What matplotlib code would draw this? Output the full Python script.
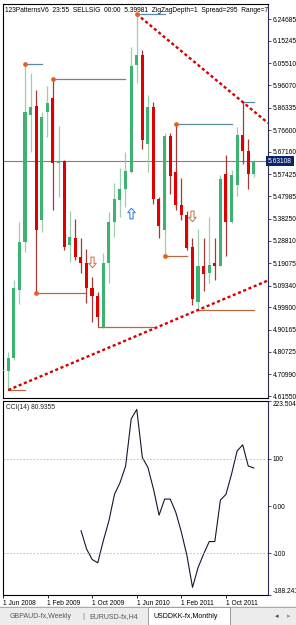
import numpy as np
import matplotlib
matplotlib.use('Agg')
import matplotlib.pyplot as plt
from matplotlib.path import Path
from matplotlib import transforms

plt.rcParams['font.family'] = ['Liberation Sans', 'DejaVu Sans']

###############################################################################
# Data: USDDKK-fx monthly, Jun 2008 .. Mar 2012
###############################################################################
OPEN = [4.7238, 4.7238, 4.7800, 5.0744, 5.2819, 5.8314, 5.8704, 5.3772,
        5.8444, 5.9050, 5.6238, 5.6324, 5.2690, 5.2992, 5.2171, 5.1911,
        5.0830, 5.0483, 4.9142, 5.1911, 5.3685, 5.4637, 5.5113, 5.5848,
        6.0478, 6.0911, 5.7060, 5.8661, 5.4680, 5.3339, 5.7406, 5.5848,
        5.4421, 5.3988, 5.2603, 5.0224, 5.1781, 5.1479, 5.1911, 5.1781,
        5.5762, 5.3685, 5.5286, 5.7449, 5.6757, 5.5762]
HIGH = [5.0527, 4.8060, 5.1176, 5.3685, 6.0521, 6.0132, 5.9396, 5.8444,
        5.9569, 5.9872, 5.7839, 5.6367, 5.4161, 5.3815, 5.2992, 5.2517,
        5.1306, 5.0657, 5.2344, 5.4118, 5.5372, 5.6021, 5.6714, 6.1257,
        6.2685, 6.1127, 5.9180, 5.8877, 5.4767, 5.7536, 5.7536, 5.7925,
        5.5589, 5.4161, 5.2992, 5.3382, 5.2992, 5.3902, 5.2992, 5.5718,
        5.6584, 5.5935, 5.7795, 5.8877, 5.7276, 5.6367]
LOW = [4.7194, 4.6415, 4.7713, 5.0137, 5.2387, 5.6714, 5.0614, 5.3252,
       5.7363, 5.4204, 5.4767, 5.2474, 5.1955, 5.2041, 5.1479, 5.0180,
       4.9358, 4.9142, 4.9098, 5.1047, 5.3036, 5.3902, 5.4334, 5.5805,
       5.9699, 5.6843, 5.5848, 5.4464, 5.2992, 5.2214, 5.4896, 5.4204,
       5.3772, 5.2474, 5.0094, 4.9877, 5.0700, 5.1047, 5.1176, 5.1781,
       5.2214, 5.3642, 5.4810, 5.6194, 5.5113, 5.5632]
CLOSE = [4.7281, 4.7800, 5.0830, 5.2819, 5.8444, 5.8661, 5.3339, 5.8228,
         5.8833, 5.6238, 5.6324, 5.2603, 5.3036, 5.2171, 5.1911, 5.0830,
         5.0483, 4.9574, 5.1911, 5.3685, 5.4680, 5.5113, 5.5891, 6.0435,
         6.0911, 5.7233, 5.8661, 5.4680, 5.3512, 5.7406, 5.5675, 5.4421,
         5.3988, 5.2560, 5.0353, 5.1781, 5.1436, 5.1825, 5.1781, 5.5545,
         5.3685, 5.5718, 5.7449, 5.6757, 5.5762, 5.63108]
# CCI(14), first value on bar 14
CCI_START = 14
CCI = [-52, -91, -113, -120, -73, -31, 25, 50, 85, 185, 205, 103, 82, 36,
       -19, 15, 15, -13, -55, -105, -172, -130, -101, -75, -75, 13, 25, 68,
       117, 130, 85, 80.9355]

# 123 pattern overlay
ZZ_HIGH_BARS = [4, 9, 24, 31]
ZZ_LOW_BARS = [6, 29]
HI_LEVELS = [(4, 7), (9, 22), (24, 29), (31, 41), (43, 45)]
LO_LEVELS = [(1, 4), (6, 15), (17, 27), (29, 33), (35, 45)]
RES_BARS = (24, 43)
SUP_BARS = (1, 35)
BUY_ARROWS = [(23, 5.4031)]
SELL_ARROWS = [(16, 5.1998), (34, 5.39981)]

PRICE_TICKS = ['6.24685', '6.15245', '6.05510', '5.96070', '5.86335',
               '5.76600', '5.67160', '5.57425', '5.47985', '5.38250',
               '5.28810', '5.19075', '5.09340', '4.99900', '4.90165',
               '4.80725', '4.70990', '4.61550']
CCI_TICKS = ['223.5044', '100', '0.00', '-100', '-188.241']
DATE_LABELS = ['1 Jun 2008', '1 Feb 2009', '1 Oct 2009', '1 Jun 2010',
               '1 Feb 2011', '1 Oct 2011']
TABS = ['GBPAUD-fx,Weekly', 'EURUSD-fx,H4', 'USDDKK-fx,Monthly']
TITLE = ('123PatternsV6  23:55  SELLSIG  00:00  5.39981  ZigZagDepth=1  '
         'Spread=295  Range=71')
LAST = CLOSE[-1]

###############################################################################
# Layout
###############################################################################
W, H = 296, 625
fig = plt.figure(figsize=(W / 100, H / 100), dpi=100)
ax = fig.add_axes([3 / W, 1 - 398 / H, 265 / W, 394 / H])
ax2 = fig.add_axes([3 / W, 1 - 595 / H, 265 / W, 194.3 / H])
XLIM = (0.054, 47.54)
AXIS_C = '#2c2c5a'
FS = 4.8

n = len(OPEN)
idx = np.arange(n)
o, h, l, c = map(np.array, (OPEN, HIGH, LOW, CLOSE))
up = c >= o

# Candles ---------------------------------------------------------------------
ax.vlines(idx[up], l[up], h[up], color='#9ccfae', lw=0.9, zorder=2)
ax.vlines(idx[~up], l[~up], h[~up], color='#a33a3a', lw=0.9, zorder=2)
body_lo = np.minimum(o, c)
body_h = np.maximum(np.abs(c - o), 0.004)
ax.bar(idx[up], body_h[up], bottom=body_lo[up], width=0.55,
       color='#3cb371', lw=0, zorder=3)
ax.bar(idx[~up], body_h[~up], bottom=body_lo[~up], width=0.55,
       color='#e00000', lw=0, zorder=3)

# Last price line -------------------------------------------------------------
ax.axhline(LAST, color='#808080', lw=0.8, zorder=1)

# Level lines and zigzag points -----------------------------------------------
for s, e in HI_LEVELS:
    ax.plot([s, e], [h[s], h[s]], color='#5b8aa6', lw=0.9, zorder=4)
for s, e in LO_LEVELS:
    ax.plot([s, e], [l[s], l[s]], color='#b5693f', lw=0.9, zorder=4)
ax.plot(ZZ_HIGH_BARS, h[ZZ_HIGH_BARS], 'o', ms=3.4, color='#f05a1e',
        mec='none', zorder=6)
ax.plot(ZZ_LOW_BARS, l[ZZ_LOW_BARS], 'o', ms=3.4, color='#f05a1e',
        mec='none', zorder=6)

# Trend lines -----------------------------------------------------------------
def trend(b1, b2, v1, v2):
    xs = np.array([b1, XLIM[1]])
    return xs, v1 + (v2 - v1) / (b2 - b1) * (xs - b1)

xs, ys = trend(RES_BARS[0], RES_BARS[1], h[RES_BARS[0]], h[RES_BARS[1]])
ax.plot(xs, ys, color='#d40000', lw=1.7, ls=(0, (1.3, 1.1)), zorder=5)
xs, ys = trend(SUP_BARS[0], SUP_BARS[1], l[SUP_BARS[0]], l[SUP_BARS[1]])
ax.plot(xs, ys, color='#d40000', lw=1.7, ls=(0, (1.3, 1.1)), zorder=5)

# Signal arrows ---------------------------------------------------------------
up_arrow = Path([(0, 1), (0.6, 0.3), (0.25, 0.3), (0.25, -0.7),
                 (-0.25, -0.7), (-0.25, 0.3), (-0.6, 0.3), (0, 1)])
dn_arrow = Path([(x, -y) for x, y in up_arrow.vertices])
for b, p in BUY_ARROWS:
    ax.plot(b, p, marker=up_arrow, ms=9, mfc='white', mec='#3d85d6',
            mew=0.8, zorder=7)
for b, p in SELL_ARROWS:
    ax.plot(b, p, marker=dn_arrow, ms=9, mfc='white', mec='#d08050',
            mew=0.8, zorder=7)

ax.set_xlim(*XLIM)
ax.set_ylim(4.6069, 6.3118)
ax.set_xticks([])
ax.yaxis.tick_right()
ax.set_yticks([float(t) for t in PRICE_TICKS])
ax.set_yticklabels(PRICE_TICKS)
ax.text(0.008, 0.993, TITLE, transform=ax.transAxes, ha='left', va='top',
        fontsize=FS, color='black', clip_on=True, zorder=8)
ax.text(1.0, LAST, '5.63108', ha='left', va='center', fontsize=FS,
        color='white', transform=transforms.blended_transform_factory(
            ax.transAxes, ax.transData),
        bbox=dict(boxstyle='square,pad=0.25', fc='#0a246a', ec='none'))

###############################################################################
# CCI panel
###############################################################################
cci_x = np.arange(CCI_START, CCI_START + len(CCI))
ax2.plot(cci_x, CCI, color='#151530', lw=0.8)
for lev in (100, -100):
    ax2.axhline(lev, color='#b4b4b4', lw=0.6, ls=(0, (2, 2)))
ax2.set_xlim(*XLIM)
ax2.set_ylim(-188.241, 223.5044)
ax2.yaxis.tick_right()
ax2.set_yticks([float(t) for t in CCI_TICKS])
ax2.set_yticklabels(CCI_TICKS)
lbls = ax2.get_yticklabels()
lbls[0].set_va('top')
lbls[-1].set_va('bottom')
ax2.text(0.012, 0.985, 'CCI(14) 80.9355', transform=ax2.transAxes,
         ha='left', va='top', fontsize=FS, color='#202020')
date_pos = [8 * i for i in range(len(DATE_LABELS))]
ax2.set_xticks(date_pos)
ax2.set_xticklabels([])
btr = transforms.blended_transform_factory(ax2.transData, ax2.transAxes)
for p, lab in zip(date_pos, DATE_LABELS):
    ax2.text(p - 0.05, -0.042, lab, transform=btr, ha='left', va='center',
             fontsize=FS, color='black', clip_on=False)

for a in (ax, ax2):
    for s in a.spines.values():
        s.set_color('black')
        s.set_linewidth(0.8)
    a.spines['right'].set_color(AXIS_C)
    a.tick_params(axis='y', direction='out', length=2.5, width=0.6,
                  color=AXIS_C, labelsize=FS, pad=1, labelcolor='black')
    a.tick_params(axis='x', direction='out', length=2, width=0.6,
                  color='black')

###############################################################################
# Tab bar
###############################################################################
tab = fig.add_axes([0, 0, 1, 19 / H])
tab.set_xlim(0, W)
tab.set_ylim(0, 19)
tab.axis('off')
tab.add_patch(plt.Rectangle((0, 0), W, 19, fc='#ececec', ec='none'))
tab.plot([0, W], [18.5, 18.5], color='#a0a0a0', lw=0.6)
tab.add_patch(plt.Rectangle((148, 0.5), 82, 18, fc='white', ec='#909090',
                            lw=0.6))
tab.text(10, 8.5, TABS[0], fontsize=5.0, color='#555555', va='center')
tab.text(82, 8.5, '|', fontsize=6, color='#777777', va='center')
tab.text(89, 8.5, TABS[1], fontsize=5.0, color='#555555', va='center')
tab.text(154, 8.5, TABS[2], fontsize=5.0, color='black', va='center')
tab.text(275, 8.5, '\u25c2', fontsize=5, color='#444444', va='center')
tab.text(287, 8.5, '\u25b8', fontsize=5, color='#999999', va='center')

fig.savefig('out.png', dpi=100, facecolor='white')
